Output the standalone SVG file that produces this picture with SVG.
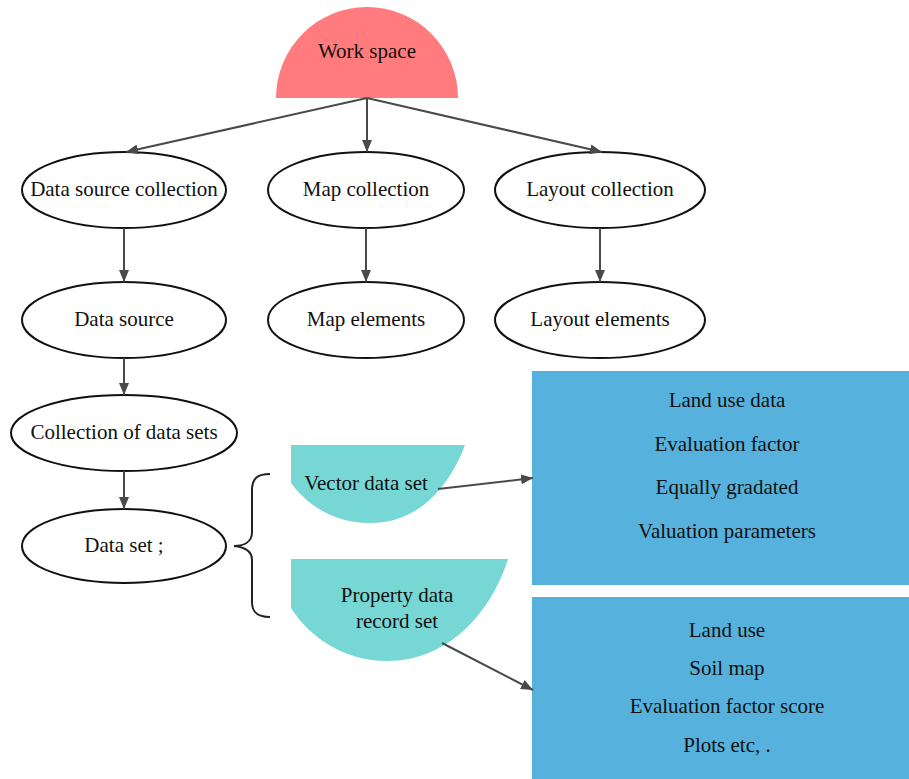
<svg xmlns="http://www.w3.org/2000/svg" width="909" height="779" viewBox="0 0 909 779">
<defs>
<marker id="ah" viewBox="0 0 12 10" refX="12" refY="5" markerWidth="12" markerHeight="10" markerUnits="userSpaceOnUse" orient="auto">
<path d="M0,0 L12,5 L0,10 Z" fill="#4a4a4a"/>
</marker>
</defs>
<style>
text{font-family:"Liberation Serif","Times New Roman",serif;font-size:21px;fill:#111;text-anchor:middle}
.el{fill:#fff;stroke:#111;stroke-width:2}
.cn{stroke:#4a4a4a;stroke-width:2;fill:none;marker-end:url(#ah)}
.teal{fill:#76d7d4}
.blue{fill:#56b1dc}
</style>
<rect width="909" height="779" fill="#fff"/>
<g id="work-space">
<path d="M276,98 A91,91 0 0 1 458,98 Z" fill="#ff7b7d"/>
<text x="367" y="58">Work space</text>
</g>
<g id="data-source-collection">
<ellipse class="el" cx="124" cy="190" rx="102" ry="38"/>
<text x="124" y="196">Data source collection</text>
</g>
<g id="map-collection">
<ellipse class="el" cx="366" cy="190" rx="98" ry="38"/>
<text x="366" y="196">Map collection</text>
</g>
<g id="layout-collection">
<ellipse class="el" cx="600" cy="190" rx="105" ry="38"/>
<text x="600" y="196">Layout collection</text>
</g>
<g id="data-source">
<ellipse class="el" cx="124" cy="320" rx="102" ry="38"/>
<text x="124" y="326">Data source</text>
</g>
<g id="map-elements">
<ellipse class="el" cx="366" cy="320" rx="98" ry="38"/>
<text x="366" y="326">Map elements</text>
</g>
<g id="layout-elements">
<ellipse class="el" cx="600" cy="320" rx="105" ry="38"/>
<text x="600" y="326">Layout elements</text>
</g>
<g id="collection-of-data-sets">
<ellipse class="el" cx="124" cy="433" rx="113" ry="38"/>
<text x="124" y="439">Collection of data sets</text>
</g>
<g id="data-set">
<ellipse class="el" cx="124" cy="546" rx="102" ry="37"/>
<text x="124" y="552">Data set ;</text>
</g>
<g id="brace">
<path d="M270,474 C258,474 252,478 252,490 L252,532 C252,542 244,546 234,546 C244,547 252,551 252,560 L252,602 C252,613 258,617 270,617" fill="none" stroke="#222" stroke-width="2"/>
</g>
<g id="vector-data-set">
<path class="teal" d="M291,445 L465,445 C450,485 420,522 373,523 C335,524 307,505 291,483 Z"/>
<text x="366" y="490">Vector data set</text>
</g>
<g id="property-data-record-set">
<path class="teal" d="M291,559 L508,559 C492,610 450,661 387,661 C345,661 310,638 291,608 Z"/>
<text x="397" y="602">Property data</text>
<text x="397" y="628">record set</text>
</g>
<g id="box-1">
<rect class="blue" x="532" y="371" width="377" height="214"/>
<text x="727" y="407">Land use data</text>
<text x="727" y="451">Evaluation factor</text>
<text x="727" y="494">Equally gradated</text>
<text x="727" y="538">Valuation parameters</text>
</g>
<g id="box-2">
<rect class="blue" x="532" y="597" width="377" height="182"/>
<text x="727" y="637">Land use</text>
<text x="727" y="675">Soil map</text>
<text x="727" y="713">Evaluation factor score</text>
<text x="727" y="752">Plots etc, .</text>
</g>
<g id="connectors">
<line class="cn" x1="367" y1="98" x2="126" y2="152"/>
<line class="cn" x1="367" y1="98" x2="367" y2="152"/>
<line class="cn" x1="367" y1="98" x2="602" y2="152"/>
<line class="cn" x1="124" y1="228" x2="124" y2="282"/>
<line class="cn" x1="366" y1="228" x2="366" y2="282"/>
<line class="cn" x1="600" y1="228" x2="600" y2="282"/>
<line class="cn" x1="124" y1="358" x2="124" y2="395"/>
<line class="cn" x1="124" y1="471" x2="124" y2="509"/>
<line class="cn" x1="438" y1="489" x2="533" y2="478"/>
<line class="cn" x1="442" y1="643" x2="533" y2="690"/>
</g>
</svg>
